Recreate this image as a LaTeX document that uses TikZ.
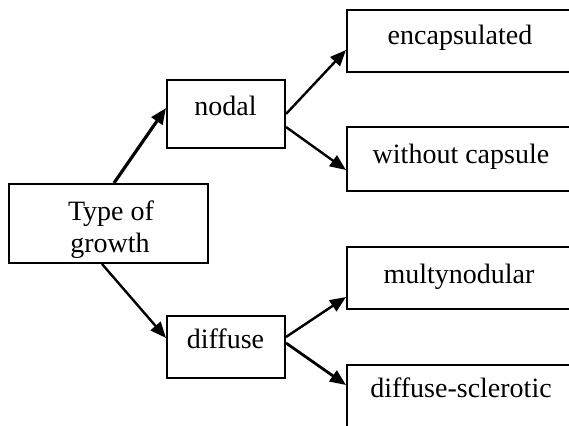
\documentclass[tikz,border=0pt]{standalone}
\usepackage{fontspec}
\setmainfont{Liberation Serif}
\usetikzlibrary{arrows.meta}
\tikzset{
  box/.style={draw=black, line width=2pt, fill=white, inner sep=0pt},
  lbl/.style={font=\fontsize{28}{32}\selectfont, inner sep=0pt, anchor=base},
  conn/.style={line width=2.4pt, -{Triangle[length=16pt,width=13pt]}},
}
\begin{document}
\begin{tikzpicture}[x=1pt,y=-1pt]
\useasboundingbox (0,0) rectangle (569,425);
\clip (0,0) rectangle (569,425);
\fill[white] (0,0) rectangle (569,425);
% boxes
\node[box, minimum width=199pt, minimum height=79pt] (type) at (108.5,223.5) {};
\node[box, minimum width=118pt, minimum height=68pt] (nodal) at (226,114) {};
\node[box, minimum width=118pt, minimum height=62pt] (diffuse) at (226,347) {};
\node[box, minimum width=253pt, minimum height=62pt] (enc) at (473.5,41) {};
\node[box, minimum width=253pt, minimum height=64pt] (wc) at (473.5,159) {};
\node[box, minimum width=253pt, minimum height=62pt] (multy) at (473.5,278) {};
\node[box, minimum width=253pt, minimum height=72pt] (ds) at (473.5,401) {};
% labels
\node[lbl] (typeA) at (111,220) {Type of};
\node[lbl] (typeB) at (110,252) {growth};
\node[lbl] (nodallbl) at (225.5,115) {nodal};
\node[lbl] (diffuselbl) at (225.5,348) {diffuse};
\node[lbl] (enclbl) at (460,45) {encapsulated};
\node[lbl] (wclbl) at (461,163) {without capsule};
\node[lbl] (multylbl) at (459,283) {multynodular};
\node[lbl] (dslbl) at (461,397) {diffuse-sclerotic};
% connectors
\draw[conn, line width=3.2pt] ([xshift=5.5pt]type.north) -- ([yshift=6pt]nodal.west);
\draw[conn] ([xshift=-6.5pt]type.south) -- ([yshift=9pt]diffuse.west);
\draw[conn] (nodal.east) -- ([yshift=-9pt]enc.west);
\draw[conn] ([yshift=-13pt]nodal.east) -- ([yshift=-11pt]wc.west);
\draw[conn] ([yshift=10pt]diffuse.east) -- ([yshift=-19pt]multy.west);
\draw[conn, line width=2.8pt] ([yshift=4pt]diffuse.east) -- ([yshift=16pt]ds.west);
\end{tikzpicture}
\end{document}
